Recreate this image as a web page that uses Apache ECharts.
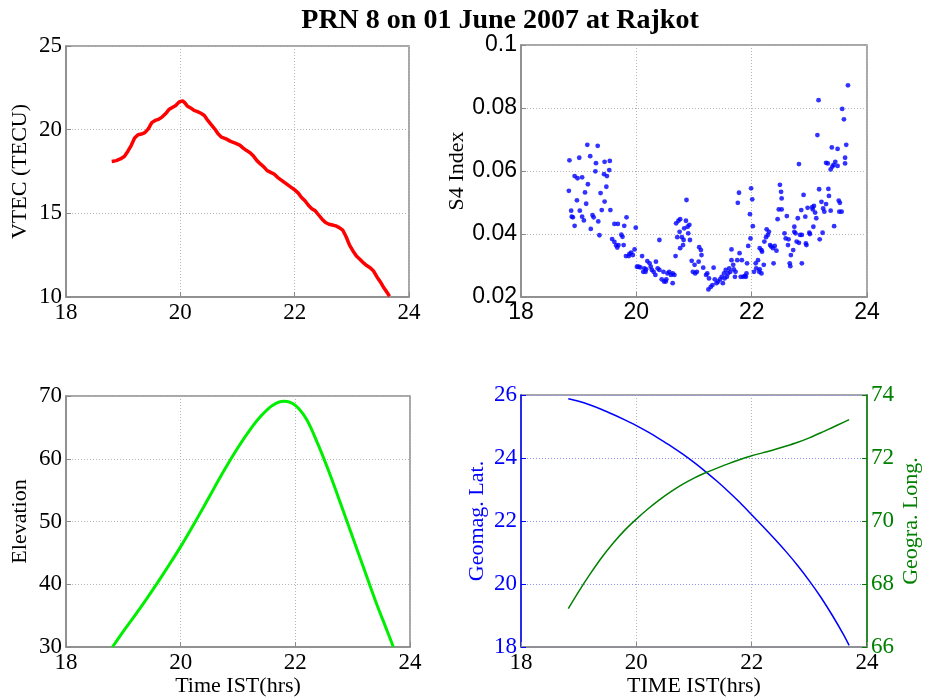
<!DOCTYPE html>
<html>
<head>
<meta charset="utf-8">
<script src="https://cdn.jsdelivr.net/npm/echarts@6/dist/echarts.min.js"></script>
<style>
  html, body { margin: 0; padding: 0; background: #fff; }
  #chart { width: 925px; height: 700px; }
</style>
</head>
<body>
<div id="chart"></div>
<script>
// ---- data ----
const titleText = 'PRN 8 on 01 June 2007 at Rajkot';
const hourTicks = [18, 20, 22, 24];

// Vertical TEC (TECU) vs time IST (hours)
const vtecData = [
  [18.80,18.10],[18.88,18.15],[18.95,18.25],[19.02,18.40],[19.08,18.70],[19.14,19.05],
  [19.20,19.50],[19.26,19.70],[19.32,19.74],[19.38,19.82],[19.44,20.05],[19.50,20.42],
  [19.56,20.55],[19.62,20.62],[19.68,20.75],[19.74,20.95],[19.80,21.20],[19.86,21.33],
  [19.92,21.45],[19.98,21.66],[20.04,21.72],[20.08,21.60],[20.12,21.42],[20.18,21.30],
  [20.24,21.15],[20.30,21.08],[20.36,20.98],[20.42,20.85],[20.48,20.55],[20.54,20.30],
  [20.60,20.05],[20.66,19.75],[20.72,19.55],[20.80,19.45],[20.88,19.30],[20.96,19.20],
  [21.04,19.08],[21.10,18.90],[21.16,18.75],[21.22,18.62],[21.28,18.42],[21.34,18.15],
  [21.40,17.95],[21.46,17.78],[21.52,17.55],[21.58,17.45],[21.64,17.35],[21.70,17.15],
  [21.76,17.00],[21.82,16.85],[21.88,16.70],[21.94,16.55],[22.00,16.40],[22.06,16.22],
  [22.12,15.95],[22.18,15.75],[22.24,15.48],[22.30,15.28],[22.36,15.15],[22.42,14.90],
  [22.48,14.65],[22.54,14.45],[22.60,14.35],[22.66,14.30],[22.72,14.25],[22.78,14.15],
  [22.84,14.00],[22.90,13.60],[22.96,13.10],[23.02,12.75],[23.08,12.45],[23.14,12.25],
  [23.20,12.05],[23.26,11.88],[23.32,11.75],[23.38,11.55],[23.44,11.20],[23.50,10.90],
  [23.56,10.55],[23.62,10.25],[23.66,10.05]
];

// S4 scintillation index samples
const s4Data = [
  [19.15,0.0683],[19.33,0.0680],[18.84,0.0634],[19.01,0.0642],[19.20,0.0647],[19.30,0.0625],
  [19.45,0.0629],[19.54,0.0632],[19.29,0.0599],[19.53,0.0603],[18.93,0.0584],[18.98,0.0577],
  [19.06,0.0580],[19.44,0.0590],[19.49,0.0584],[19.16,0.0558],[19.48,0.0550],[18.83,0.0537],
  [19.11,0.0532],[19.38,0.0530],[18.97,0.0507],[19.13,0.0496],[19.45,0.0503],[18.87,0.0474],
  [19.02,0.0474],[19.40,0.0476],[19.55,0.0476],[18.90,0.0453],[18.88,0.0455],[19.06,0.0455],
  [19.24,0.0460],[19.26,0.0453],[19.09,0.0443],[19.34,0.0440],[18.93,0.0426],[19.21,0.0416],
  [19.36,0.0396],[19.62,0.0432],[19.68,0.0432],[19.83,0.0453],[19.79,0.0426],[19.58,0.0384],
  [19.62,0.0375],[19.74,0.0398],[19.76,0.0391],[19.65,0.0364],[19.69,0.0365],[19.78,0.0365],
  [19.67,0.0357],[19.99,0.0420],[19.97,0.0351],[19.91,0.0341],[19.88,0.0337],[19.82,0.0330],
  [19.87,0.0330],[19.94,0.0333],[20.01,0.0296],[20.04,0.0296],
  [20.07,0.0294],[20.14,0.0291],[20.10,0.0330],[20.12,0.0280],[20.16,0.0280],[20.17,0.0288],
  [20.19,0.0314],[20.23,0.0307],[20.25,0.0296],[20.27,0.0286],[20.30,0.0280],[20.34,0.0312],
  [20.33,0.0270],[20.37,0.0291],[20.40,0.0286],[20.40,0.0381],[20.44,0.0256],[20.47,0.0280],
  [20.48,0.0249],[20.52,0.0256],[20.54,0.0275],[20.57,0.0280],[20.60,0.0270],[20.63,0.0275],
  [20.66,0.0270],[20.63,0.0244],[20.51,0.0249],[20.68,0.0330],[20.69,0.0434],[20.73,0.0442],
  [20.76,0.0447],[20.71,0.0390],[20.75,0.0407],[20.79,0.0390],[20.76,0.0355],[20.81,0.0365],
  [20.82,0.0381],[20.83,0.0418],[20.86,0.0442],[20.87,0.0508],[20.89,0.0423],[20.90,0.0402],
  [20.92,0.0429],[20.93,0.0381],[20.96,0.0315],[20.98,0.0280],[21.01,0.0302],[21.02,0.0275],
  [21.05,0.0280],[21.08,0.0312],[21.09,0.0358],[21.12,0.0349],[21.13,0.0333],[21.16,0.0293],
  [21.21,0.0270],[21.23,0.0275],[21.26,0.0259],[21.25,0.0224],[21.29,0.0232],[21.32,0.0238],
  [21.34,0.0293],[21.36,0.0256],[21.39,0.0244],[21.42,0.0249],
  [21.45,0.0256],[21.48,0.0264],[21.50,0.0244],[21.52,0.0275],[21.53,0.0259],[21.55,0.0286],
  [21.57,0.0264],[21.59,0.0275],[21.61,0.0291],[21.63,0.0280],[21.65,0.0317],[21.65,0.0351],
  [21.68,0.0302],[21.69,0.0288],[21.71,0.0264],[21.72,0.0280],[21.75,0.0317],[21.76,0.0499],
  [21.78,0.0531],[21.79,0.0339],[21.81,0.0264],[21.83,0.0317],[21.85,0.0264],[21.88,0.0267],
  [21.90,0.0264],[21.91,0.0275],[21.92,0.0307],[21.94,0.0362],[21.97,0.0463],[21.99,0.0545],
  [22.01,0.0510],[21.98,0.0386],[22.02,0.0425],[22.04,0.0280],[22.07,0.0307],[22.08,0.0291],
  [22.11,0.0317],[22.13,0.0280],[22.14,0.0355],[22.17,0.0349],[22.18,0.0344],[22.14,0.0288],
  [22.17,0.0275],[22.21,0.0302],[22.22,0.0376],[22.25,0.0390],[22.26,0.0415],[22.30,0.0407],
  [22.28,0.0397],[22.32,0.0365],[22.34,0.0360],[22.37,0.0355],[22.40,0.0362],[22.38,0.0307],
  [22.43,0.0347],[22.45,0.0447],[22.47,0.0478],[22.49,0.0556],[22.51,0.0534],[22.52,0.0513],
  [22.52,0.0478],[22.59,0.0386],[22.61,0.0457],[22.63,0.0365],[22.57,0.0402],[22.64,0.0383],
  [22.68,0.0333],[22.72,0.0349],[22.66,0.0307],[22.67,0.0298],[22.74,0.0423],[22.74,0.0407],
  [22.76,0.0402],[22.80,0.0450],[22.78,0.0376],[22.82,0.0372],[22.82,0.0622],[22.86,0.0476],
  [22.84,0.0397],[22.87,0.0397],[22.87,0.0307],[22.90,0.0524],[22.93,0.0455],[22.94,0.0370],
  [22.95,0.0365],[22.97,0.0483],[23.00,0.0404],[23.01,0.0400],[23.05,0.0485],[23.06,0.0478],
  [23.08,0.0489],[23.07,0.0423],[23.10,0.0468],[23.12,0.0450],[23.14,0.0714],[23.16,0.0825],
  [23.17,0.0542],[23.18,0.0383],[23.21,0.0502],[23.23,0.0404],[23.24,0.0481],[23.26,0.0471],
  [23.29,0.0495],[23.29,0.0626],[23.32,0.0624],[23.33,0.0543],[23.34,0.0521],[23.37,0.0474],
  [23.39,0.0675],[23.37,0.0605],[23.40,0.0614],[23.42,0.0619],[23.45,0.0629],[23.43,0.0425],
  [23.49,0.0670],[23.49,0.0616],[23.51,0.0506],[23.53,0.0499],[23.52,0.0471],[23.56,0.0471],
  [23.57,0.0797],[23.60,0.0764],[23.62,0.0642],[23.62,0.0624],[23.64,0.0683],[23.67,0.0872]
];

// Satellite elevation (degrees)
const elevationData = [
  [18.81,30.0],[19.0,32.5],[19.2,35.0],[19.4,37.6],[19.6,40.3],[19.8,43.1],[20.0,46.0],
  [20.2,49.1],[20.4,52.3],[20.6,55.6],[20.8,58.8],[21.0,61.8],[21.2,64.5],[21.4,66.8],
  [21.6,68.5],[21.8,69.15],[22.0,68.5],[22.2,66.2],[22.4,62.2],[22.6,57.6],
  [22.8,52.6],[23.0,47.5],[23.2,42.4],[23.4,37.3],[23.6,32.6],[23.71,30.0]
];

// Ionospheric pierce point: geomagnetic latitude and geographic longitude
const geomagLatData = [
  [18.82,25.88],[19.0,25.80],[19.2,25.68],[19.4,25.54],[19.6,25.38],[19.8,25.21],[20.0,25.03],
  [20.2,24.83],[20.4,24.61],[20.6,24.38],[20.8,24.13],[21.0,23.86],[21.2,23.57],[21.4,23.26],
  [21.6,22.93],[21.8,22.58],[22.0,22.20],[22.2,21.82],[22.4,21.43],[22.6,21.02],[22.8,20.58],
  [23.0,20.10],[23.2,19.58],[23.4,19.00],[23.6,18.37],[23.69,18.05]
];
const geograLongData = [
  [18.82,67.22],[19.0,67.76],[19.2,68.32],[19.4,68.84],[19.6,69.30],[19.8,69.71],[20.0,70.06],
  [20.2,70.38],[20.4,70.67],[20.6,70.93],[20.8,71.16],[21.0,71.36],[21.2,71.53],[21.4,71.68],
  [21.6,71.82],[21.8,71.95],[22.0,72.07],[22.2,72.17],[22.4,72.27],[22.6,72.38],[22.8,72.50],
  [23.0,72.64],[23.2,72.80],[23.4,72.97],[23.6,73.14],[23.69,73.22]
];

// ---- styling ----
const SERIF = '"Liberation Serif", "Times New Roman", serif';
const SANS = '"Liberation Sans", Arial, sans-serif';
const FRAME = '#8a8a8a';
const GRID_DOT = '#b5b5b5';
const BLUE = '#0000ff';
const DKGREEN = '#008000';
const TICK_FONT = 23;

function xAxis(gridIndex, font, name) {
  return {
    type: 'value', gridIndex, min: hourTicks[0], max: hourTicks[hourTicks.length - 1], interval: 2,
    axisLine: { onZero: false, lineStyle: { color: FRAME, width: 1.5 } },
    axisTick: { inside: true, length: 5, lineStyle: { color: FRAME } },
    axisLabel: { color: '#000', fontFamily: font, fontSize: TICK_FONT, margin: 4 },
    splitLine: { show: true, lineStyle: { color: GRID_DOT, type: [1, 2], width: 1 } },
    name: name || '', nameLocation: 'middle', nameGap: 28,
    nameTextStyle: { color: '#000', fontFamily: SERIF, fontSize: 22 }
  };
}

function yAxis(gridIndex, min, max, interval, name, opts) {
  opts = opts || {};
  const color = opts.color || '#000';
  return {
    type: 'value', gridIndex, min, max, interval,
    position: opts.position || 'left',
    axisLine: { onZero: false, lineStyle: { color: opts.lineColor || FRAME, width: 1.5 } },
    axisTick: { inside: true, length: 5, lineStyle: { color: opts.lineColor || FRAME } },
    axisLabel: {
      color, fontFamily: opts.font || SERIF, fontSize: TICK_FONT, margin: 4,
      formatter: opts.formatter
    },
    splitLine: { show: opts.split !== false, lineStyle: { color: opts.splitColor || GRID_DOT, type: [1, 2], width: 1 } },
    name, nameLocation: 'middle', nameGap: opts.nameGap || 34, nameRotate: 90,
    nameTextStyle: { color, fontFamily: SERIF, fontSize: 22 }
  };
}

const chart = echarts.init(document.getElementById('chart'), null, { renderer: 'canvas' });

const gridBox = { show: true, borderColor: FRAME, borderWidth: 1.5, containLabel: false };
const smoothLine = { smooth: 0.3, showSymbol: false };

chart.setOption({
  animation: false,
  backgroundColor: '#fff',
  title: {
    text: titleText, left: 495, textAlign: 'center', top: 2,
    textStyle: { fontFamily: SERIF, fontWeight: 'bold', fontSize: 28, color: '#000' }
  },
  grid: [
    Object.assign({ left: 66, top: 46, width: 343, height: 251 }, gridBox),
    Object.assign({ left: 521, top: 45, width: 346, height: 252 }, gridBox),
    Object.assign({ left: 66, top: 396, width: 344, height: 251 }, gridBox),
    Object.assign({ left: 521, top: 395, width: 346, height: 252 }, gridBox)
  ],
  xAxis: [
    xAxis(0, SERIF),
    xAxis(1, SANS),
    xAxis(2, SERIF, 'Time IST(hrs)'),
    xAxis(3, SERIF, 'TIME IST(hrs)')
  ],
  yAxis: [
    yAxis(0, 10, 25, 5, 'VTEC (TECU)', { nameGap: 35 }),
    yAxis(1, 0.02, 0.1, 0.02, 'S4 Index', {
      font: SANS, nameGap: 48,
      formatter: v => String(+v.toFixed(2))
    }),
    yAxis(2, 30, 70, 10, 'Elevation', { nameGap: 35 }),
    yAxis(3, 18, 26, 2, 'Geomag. Lat.', {
      color: BLUE, lineColor: BLUE, splitColor: '#8f8fff', nameGap: 33
    }),
    yAxis(3, 66, 74, 2, 'Geogra. Long.', {
      color: DKGREEN, lineColor: DKGREEN, position: 'right', split: false, nameGap: 33
    })
  ],
  series: [
    {
      type: 'line', xAxisIndex: 0, yAxisIndex: 0, data: vtecData,
      showSymbol: false, lineStyle: { color: '#ff0000', width: 3.5 }
    },
    {
      type: 'scatter', xAxisIndex: 1, yAxisIndex: 1, data: s4Data,
      symbol: 'circle', symbolSize: 4.8, itemStyle: { color: BLUE }
    },
    Object.assign({
      type: 'line', xAxisIndex: 2, yAxisIndex: 2, data: elevationData,
      lineStyle: { color: '#00ee00', width: 3 }
    }, smoothLine),
    Object.assign({
      type: 'line', xAxisIndex: 3, yAxisIndex: 3, data: geomagLatData,
      lineStyle: { color: BLUE, width: 1.5 }
    }, smoothLine),
    Object.assign({
      type: 'line', xAxisIndex: 3, yAxisIndex: 4, data: geograLongData,
      lineStyle: { color: DKGREEN, width: 1.5 }
    }, smoothLine)
  ]
});
</script>
</body>
</html>
